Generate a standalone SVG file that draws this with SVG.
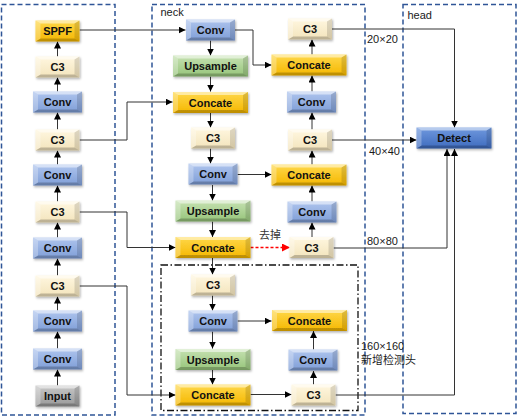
<svg xmlns="http://www.w3.org/2000/svg" xmlns:xlink="http://www.w3.org/1999/xlink" width="519" height="417" viewBox="0 0 519 417">
<style>
.frame{fill:none;stroke:#2F5597;stroke-width:1.5;stroke-dasharray:5,3}
.dd{fill:none;stroke:#111;stroke-width:1.3;stroke-dasharray:7,2.5,1.5,2.5}
.lbl{font-family:"Liberation Sans",Arial,sans-serif;font-size:11px;fill:#1a1a1a}
.cjk{font-family:"Liberation Sans","Noto Sans CJK SC",sans-serif;font-size:11px;fill:#333}
.nt{font-family:"Liberation Sans",Arial,sans-serif;font-size:11px;font-weight:bold;fill:#111;text-anchor:middle}
.c3{fill:url(#gC3)}
.conv{fill:url(#gConv)}
.gold{fill:url(#gGold)}
.green{fill:url(#gGreen)}
.gray{fill:url(#gGray)}
.det{fill:url(#gDet)}
.edge{fill:none;stroke:#333;stroke-width:1}
.red{fill:none;stroke:#FF0000;stroke-width:1.5;stroke-dasharray:3,2}
.bt{fill:#fff;fill-opacity:0.5}
.bl{fill:#fff;fill-opacity:0.28}
.bb{fill:#000;fill-opacity:0.22}
.br{fill:#000;fill-opacity:0.13}
</style>
<defs>
<linearGradient id="gC3" x1="0" y1="0" x2="0" y2="1"><stop offset="0" stop-color="#FFF7E0"/><stop offset="1" stop-color="#F3E4BC"/></linearGradient>
<linearGradient id="gConv" x1="0" y1="0" x2="0" y2="1"><stop offset="0" stop-color="#AFC5EE"/><stop offset="1" stop-color="#7F9ED7"/></linearGradient>
<linearGradient id="gGold" x1="0" y1="0" x2="0" y2="1"><stop offset="0" stop-color="#FFD84A"/><stop offset="1" stop-color="#F5B700"/></linearGradient>
<linearGradient id="gGreen" x1="0" y1="0" x2="0" y2="1"><stop offset="0" stop-color="#C6E2B2"/><stop offset="1" stop-color="#96C47A"/></linearGradient>
<linearGradient id="gGray" x1="0" y1="0" x2="0" y2="1"><stop offset="0" stop-color="#C8C8C8"/><stop offset="1" stop-color="#989898"/></linearGradient>
<linearGradient id="gDet" x1="0" y1="0" x2="0" y2="1"><stop offset="0" stop-color="#7099DE"/><stop offset="1" stop-color="#3E6BBE"/></linearGradient>
<filter id="sh" x="-20%" y="-30%" width="140%" height="160%"><feDropShadow dx="1" dy="1.5" stdDeviation="1" flood-color="#000" flood-opacity="0.3"/></filter>
<marker id="ah" viewBox="0 0 10 10" refX="10" refY="5" markerWidth="7" markerHeight="7" markerUnits="userSpaceOnUse" orient="auto"><path d="M0,0L10,5L0,10z" fill="#000"/></marker>
<marker id="ahr" viewBox="0 0 10 10" refX="10" refY="5" markerWidth="8" markerHeight="8" markerUnits="userSpaceOnUse" orient="auto"><path d="M0,0L10,5L0,10z" fill="#FF0000"/></marker>
<g id="bev44"><polygon class="bt" points="-22,-10.5 22,-10.5 17,-7.5 -17,-7.5"/><polygon class="bb" points="-22,10.5 22,10.5 17,7.5 -17,7.5"/><polygon class="bl" points="-22,-10.5 -17,-7.5 -17,7.5 -22,10.5"/><polygon class="br" points="22,-10.5 17,-7.5 17,7.5 22,10.5"/></g>
<g id="bev49"><polygon class="bt" points="-24.5,-10.5 24.5,-10.5 19.5,-7.5 -19.5,-7.5"/><polygon class="bb" points="-24.5,10.5 24.5,10.5 19.5,7.5 -19.5,7.5"/><polygon class="bl" points="-24.5,-10.5 -19.5,-7.5 -19.5,7.5 -24.5,10.5"/><polygon class="br" points="24.5,-10.5 19.5,-7.5 19.5,7.5 24.5,10.5"/></g>
<g id="bev75"><polygon class="bt" points="-37.5,-10.5 37.5,-10.5 32.5,-7.5 -32.5,-7.5"/><polygon class="bb" points="-37.5,10.5 37.5,10.5 32.5,7.5 -32.5,7.5"/><polygon class="bl" points="-37.5,-10.5 -32.5,-7.5 -32.5,7.5 -37.5,10.5"/><polygon class="br" points="37.5,-10.5 32.5,-7.5 32.5,7.5 37.5,10.5"/></g>
<g id="tC3" filter="url(#sh)"><rect x="-22" y="-10.5" width="44" height="21" class="c3"/><use xlink:href="#bev44"/></g>
<g id="tSPPF" filter="url(#sh)"><rect x="-22" y="-10.5" width="44" height="21" class="gold"/><use xlink:href="#bev44"/></g>
<g id="tInput" filter="url(#sh)"><rect x="-22" y="-10.5" width="44" height="21" class="gray"/><use xlink:href="#bev44"/></g>
<g id="tConv" filter="url(#sh)"><rect x="-24.5" y="-10.5" width="49" height="21" class="conv"/><use xlink:href="#bev49"/></g>
<g id="tUp" filter="url(#sh)"><rect x="-37.5" y="-10.5" width="75" height="21" class="green"/><use xlink:href="#bev75"/></g>
<g id="tCat" filter="url(#sh)"><rect x="-37.5" y="-10.5" width="75" height="21" class="gold"/><use xlink:href="#bev75"/></g>
<g id="tDet" filter="url(#sh)"><rect x="-37.5" y="-10.5" width="75" height="21" class="det"/><use xlink:href="#bev75"/></g>
</defs>
<rect width="519" height="417" fill="#fff"/>
<g id="frames">
<rect class="frame" x="1.5" y="4.5" width="113.5" height="410.5"/>
<rect class="frame" x="152" y="4.5" width="213" height="410.5"/>
<rect class="frame" x="403" y="4.5" width="113" height="409"/>
<rect class="dd" x="161" y="265" width="197" height="145.5"/>
<text class="lbl" x="160.5" y="16">neck</text>
<text class="lbl" x="407.5" y="19">head</text>
</g>
<g id="connectors">
<path class="edge" marker-end="url(#ah)" d="M57.5,385.5V369.5"/>
<path class="edge" marker-end="url(#ah)" d="M57.5,348.5V331.5"/>
<path class="edge" marker-end="url(#ah)" d="M57.5,310.5V296.5"/>
<path class="edge" marker-end="url(#ah)" d="M57.5,275.5V258.5"/>
<path class="edge" marker-end="url(#ah)" d="M57.5,237.5V222.5"/>
<path class="edge" marker-end="url(#ah)" d="M57.5,201.5V185.5"/>
<path class="edge" marker-end="url(#ah)" d="M57.5,164.5V150.5"/>
<path class="edge" marker-end="url(#ah)" d="M57.5,129.5V112.5"/>
<path class="edge" marker-end="url(#ah)" d="M57.5,91.5V77.5"/>
<path class="edge" marker-end="url(#ah)" d="M57.5,56.5V41.5"/>
<path class="edge" marker-end="url(#ah)" d="M79.5,30H185.5"/>
<path class="edge" marker-end="url(#ah)" d="M79.5,140H127V102H172.5"/>
<path class="edge" marker-end="url(#ah)" d="M79.5,212H127V247.5H175.5"/>
<path class="edge" marker-end="url(#ah)" d="M79.5,286H127V395H175.5"/>
<path class="edge" marker-end="url(#ah)" d="M235,30H253V65H271.5"/>
<path class="edge" marker-end="url(#ah)" d="M210.5,40.5V55.5"/>
<path class="edge" marker-end="url(#ah)" d="M210.5,76.5V91.5"/>
<path class="edge" marker-end="url(#ah)" d="M210.5,113V127.5"/>
<path class="edge" marker-end="url(#ah)" d="M210.5,148.5V163.5"/>
<path class="edge" marker-end="url(#ah)" d="M212.5,185V200.5"/>
<path class="edge" marker-end="url(#ah)" d="M212.5,221.5V237"/>
<path class="edge" marker-end="url(#ah)" d="M212.5,258V274.5"/>
<path class="edge" marker-end="url(#ah)" d="M212.5,295.5V310.5"/>
<path class="edge" marker-end="url(#ah)" d="M212.5,331.5V348.5"/>
<path class="edge" marker-end="url(#ah)" d="M212.5,370V384.5"/>
<path class="edge" marker-end="url(#ah)" d="M237.5,174.5H271.5"/>
<path class="edge" marker-end="url(#ah)" d="M237.5,321H271.5"/>
<path class="edge" marker-end="url(#ah)" d="M250.5,394.5H291.5"/>
<path class="red" marker-end="url(#ahr)" d="M250.5,247.5H290"/>
<path class="edge" marker-end="url(#ah)" d="M313.5,384.5V371"/>
<path class="edge" marker-end="url(#ah)" d="M313.5,349.5V331"/>
<path class="edge" marker-end="url(#ah)" d="M312,237V222.5"/>
<path class="edge" marker-end="url(#ah)" d="M312,201.5V185.5"/>
<path class="edge" marker-end="url(#ah)" d="M312,164.5V150.5"/>
<path class="edge" marker-end="url(#ah)" d="M312,129.5V112.5"/>
<path class="edge" marker-end="url(#ah)" d="M312,91.5V75.5"/>
<path class="edge" marker-end="url(#ah)" d="M312,54.5V39.5"/>
<path class="edge" marker-end="url(#ah)" d="M332,29H454.5V127.5"/>
<path class="edge" marker-end="url(#ah)" d="M332,140H416.5"/>
<path class="edge" marker-end="url(#ah)" d="M333.5,248H447V149"/>
<path class="edge" marker-end="url(#ah)" d="M335.5,395H454.5V149"/>
<text class="cjk" x="259" y="239">去掉</text>
<text class="lbl" x="367" y="43">20×20</text>
<text class="lbl" x="369" y="154.5">40×40</text>
<text class="lbl" x="367" y="244.5">80×80</text>
<text class="lbl" x="361" y="349.5">160×160</text>
<text class="cjk" x="361" y="363.5" style="fill:#1a1a1a">新增检测头</text>
</g>
<g id="b-sppf"><use xlink:href="#tSPPF" x="57.5" y="31"/><text class="nt" x="57.5" y="35">SPPF</text></g>
<g id="b-c3-4"><use xlink:href="#tC3" x="57.5" y="67"/><text class="nt" x="57.5" y="71">C3</text></g>
<g id="b-conv-4"><use xlink:href="#tConv" x="57.5" y="102"/><text class="nt" x="57.5" y="106">Conv</text></g>
<g id="b-c3-3"><use xlink:href="#tC3" x="57.5" y="140"/><text class="nt" x="57.5" y="144">C3</text></g>
<g id="b-conv-3"><use xlink:href="#tConv" x="57.5" y="175"/><text class="nt" x="57.5" y="179">Conv</text></g>
<g id="b-c3-2"><use xlink:href="#tC3" x="57.5" y="212"/><text class="nt" x="57.5" y="216">C3</text></g>
<g id="b-conv-2"><use xlink:href="#tConv" x="57.5" y="248"/><text class="nt" x="57.5" y="252">Conv</text></g>
<g id="b-c3-1"><use xlink:href="#tC3" x="57.5" y="286"/><text class="nt" x="57.5" y="290">C3</text></g>
<g id="b-conv-1"><use xlink:href="#tConv" x="57.5" y="321"/><text class="nt" x="57.5" y="325">Conv</text></g>
<g id="b-conv-0"><use xlink:href="#tConv" x="57.5" y="359"/><text class="nt" x="57.5" y="363">Conv</text></g>
<g id="b-input"><use xlink:href="#tInput" x="57.5" y="396"/><text class="nt" x="57.5" y="400">Input</text></g>
<g id="n-conv-1"><use xlink:href="#tConv" x="210.5" y="30"/><text class="nt" x="210.5" y="34">Conv</text></g>
<g id="n-up-1"><use xlink:href="#tUp" x="210.5" y="66"/><text class="nt" x="210.5" y="70">Upsample</text></g>
<g id="n-cat-1"><use xlink:href="#tCat" x="210.5" y="102.5"/><text class="nt" x="210.5" y="106.5">Concate</text></g>
<g id="n-c3-1"><use xlink:href="#tC3" x="213" y="138"/><text class="nt" x="213" y="142">C3</text></g>
<g id="n-conv-2"><use xlink:href="#tConv" x="213" y="174"/><text class="nt" x="213" y="178">Conv</text></g>
<g id="n-up-2"><use xlink:href="#tUp" x="213" y="211"/><text class="nt" x="213" y="215">Upsample</text></g>
<g id="n-cat-2"><use xlink:href="#tCat" x="213" y="247.5"/><text class="nt" x="213" y="251.5">Concate</text></g>
<g id="n-c3-2"><use xlink:href="#tC3" x="213" y="285"/><text class="nt" x="213" y="289">C3</text></g>
<g id="n-conv-3"><use xlink:href="#tConv" x="213" y="321"/><text class="nt" x="213" y="325">Conv</text></g>
<g id="n-up-3"><use xlink:href="#tUp" x="213" y="359.5"/><text class="nt" x="213" y="363.5">Upsample</text></g>
<g id="n-cat-3"><use xlink:href="#tCat" x="213" y="395"/><text class="nt" x="213" y="399">Concate</text></g>
<g id="r-c3-1"><use xlink:href="#tC3" x="310" y="29"/><text class="nt" x="310" y="33">C3</text></g>
<g id="r-cat-1"><use xlink:href="#tCat" x="309" y="65"/><text class="nt" x="309" y="69">Concate</text></g>
<g id="r-conv-1"><use xlink:href="#tConv" x="311.5" y="102"/><text class="nt" x="311.5" y="106">Conv</text></g>
<g id="r-c3-2"><use xlink:href="#tC3" x="310" y="140"/><text class="nt" x="310" y="144">C3</text></g>
<g id="r-cat-2"><use xlink:href="#tCat" x="309" y="175"/><text class="nt" x="309" y="179">Concate</text></g>
<g id="r-conv-2"><use xlink:href="#tConv" x="312" y="212"/><text class="nt" x="312" y="216">Conv</text></g>
<g id="r-c3-3"><use xlink:href="#tC3" x="311.5" y="247.5"/><text class="nt" x="311.5" y="251.5">C3</text></g>
<g id="r-cat-3"><use xlink:href="#tCat" x="309.5" y="320.5"/><text class="nt" x="309.5" y="324.5">Concate</text></g>
<g id="r-conv-3"><use xlink:href="#tConv" x="313" y="360"/><text class="nt" x="313" y="364">Conv</text></g>
<g id="r-c3-4"><use xlink:href="#tC3" x="313.5" y="395"/><text class="nt" x="313.5" y="399">C3</text></g>
<g id="h-detect"><use xlink:href="#tDet" x="454" y="138"/><text class="nt" x="454" y="142">Detect</text></g>
</svg>
